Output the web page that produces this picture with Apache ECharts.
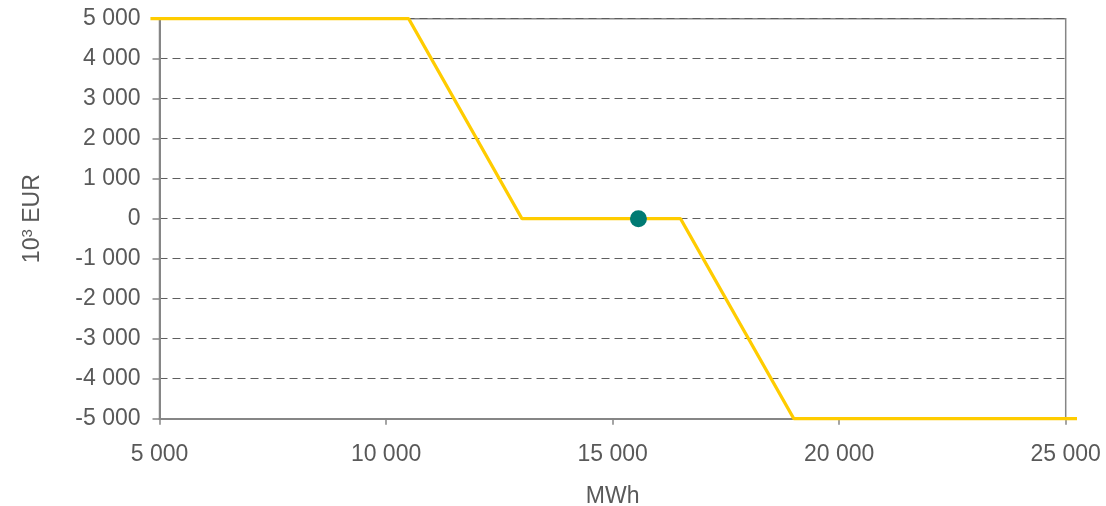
<!DOCTYPE html>
<html>
<head>
<meta charset="utf-8">
<style>
  html, body { margin: 0; padding: 0; background: #ffffff; }
  #chart { width: 1106px; height: 506px; }
</style>
<script src="https://cdn.jsdelivr.net/npm/echarts@6/dist/echarts.min.js"></script>
</head>
<body>
<div id="chart"></div>
<script>
// Settlement curve: volume (MWh) against payment (10^3 EUR)
const curveVolumes = [4800, 10500, 13000, 16500, 19000, 25250];
const curveValues  = [5000, 5000, 0, 0, -5000, -5000];
// Actual position marker
const pointVolume = 15570;
const pointValue = 0;

const xTicks = { min: 5000, max: 25000, interval: 5000 };
const yTicks = { min: -5000, max: 5000, interval: 1000 };

function spaced(v) {
  const s = String(Math.abs(v)).replace(/\B(?=(\d{3})+(?!\d))/g, ' ');
  return (v < 0 ? '-' : '') + s;
}

const textColor = '#595959';
const axisColor = '#868686';
const font = 'Liberation Sans, Arial, sans-serif';
const fs = 23;

// Plot frame in pixels
const W = 1106;
const frame = { left: 159.5, right: 40.3, top: 18.7, bottom: 87.3 };
// The curve runs a little past both ends of the frame: a second, hidden grid
// on the same scale covers the curve's full volume range.
const pxPerUnit = (W - frame.left - frame.right) / (xTicks.max - xTicks.min);
const curveMin = curveVolumes[0];
const curveMax = curveVolumes[curveVolumes.length - 1];
const overGrid = {
  left: frame.left - (xTicks.min - curveMin) * pxPerUnit,
  right: frame.right - (curveMax - xTicks.max) * pxPerUnit,
  top: frame.top, bottom: frame.bottom
};

const chart = echarts.init(document.getElementById('chart'), null, { renderer: 'canvas' });
chart.setOption({
  animation: false,
  backgroundColor: '#ffffff',
  grid: [
    {
      left: frame.left, right: frame.right, top: frame.top, bottom: frame.bottom,
      containLabel: false, outerBoundsMode: 'none',
      show: true, borderColor: axisColor, borderWidth: 1.5, backgroundColor: 'transparent'
    },
    {
      left: overGrid.left, right: overGrid.right, top: overGrid.top, bottom: overGrid.bottom,
      containLabel: false, outerBoundsMode: 'none',
      show: false
    }
  ],
  xAxis: [
    {
      gridIndex: 0,
      type: 'value',
      min: xTicks.min, max: xTicks.max, interval: xTicks.interval,
      name: 'MWh', nameLocation: 'middle', nameGap: 66,
      nameTextStyle: { color: textColor, fontSize: fs, fontFamily: font },
      axisLine: { show: true, onZero: false, lineStyle: { color: axisColor, width: 2 } },
      axisTick: { show: true, length: 6, lineStyle: { color: axisColor, width: 1.5 } },
      axisLabel: { color: textColor, fontSize: fs, fontFamily: font, margin: 24, formatter: spaced },
      splitLine: { show: false }
    },
    {
      gridIndex: 1,
      type: 'value',
      min: curveMin, max: curveMax,
      show: false
    }
  ],
  yAxis: [
    {
      gridIndex: 0,
      type: 'value',
      min: yTicks.min, max: yTicks.max, interval: yTicks.interval,
      name: '{b|10}{s|3}{b| EUR}', nameLocation: 'middle', nameGap: 114,
      nameTextStyle: {
        color: textColor, fontFamily: font,
        rich: {
          b: { fontSize: fs, color: textColor, fontFamily: font },
          s: { fontSize: 15, color: textColor, fontFamily: font, verticalAlign: 'top', padding: [0, 0, 10, 0] }
        }
      },
      axisLine: { show: true, onZero: false, lineStyle: { color: axisColor, width: 2 } },
      axisTick: { show: true, length: 7, lineStyle: { color: axisColor, width: 1.5 } },
      axisLabel: { color: textColor, fontSize: fs, fontFamily: font, margin: 19, formatter: spaced },
      splitLine: { show: true, lineStyle: { color: '#5e5e5e', width: 1, type: [8, 5] } }
    },
    {
      gridIndex: 1,
      type: 'value',
      min: yTicks.min, max: yTicks.max,
      show: false
    }
  ],
  series: [
    {
      type: 'line',
      xAxisIndex: 1, yAxisIndex: 1,
      data: curveVolumes.map((x, i) => [x, curveValues[i]]),
      showSymbol: false,
      clip: false,
      lineStyle: { color: '#FFCC00', width: 3.3 },
      z: 3
    },
    {
      type: 'scatter',
      xAxisIndex: 0, yAxisIndex: 0,
      data: [[pointVolume, pointValue]],
      symbol: 'circle',
      symbolSize: 17,
      itemStyle: { color: '#007A73', opacity: 1 },
      z: 4
    }
  ]
});
</script>
</body>
</html>
